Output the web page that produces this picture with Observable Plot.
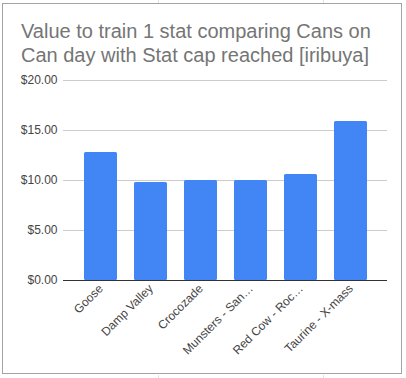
<!DOCTYPE html>
<html>
<head>
<meta charset="utf-8">
<script src="https://cdn.jsdelivr.net/npm/d3@7"></script>
<script src="https://cdn.jsdelivr.net/npm/@observablehq/plot@0.6"></script>
<style>
  html, body { margin: 0; padding: 0; background: #fff; }
  body { width: 406px; height: 378px; position: relative; overflow: hidden; font-family: "Liberation Sans", Arial, sans-serif; }
  #frame { position: absolute; left: 2px; top: 3px; width: 400px; height: 371px; border: 1px solid #a3a3a3; box-sizing: border-box; }
  #title { position: absolute; left: 21px; top: 19px; font-size: 20px; line-height: 24px; color: #757575; white-space: nowrap; }
  #chart { position: absolute; left: 0; top: 70px; }
  .gl { position: absolute; background: #e2e2e2; }
</style>
</head>
<body>
<div class="gl" style="left:158px;top:0;width:1px;height:3px"></div>
<div class="gl" style="left:323px;top:0;width:1px;height:3px"></div>
<div class="gl" style="left:158px;top:375px;width:1px;height:3px"></div>
<div class="gl" style="left:323px;top:375px;width:1px;height:3px"></div>
<div id="frame"></div>
<div id="title">Value to train 1 stat comparing Cans on<br>Can day with Stat cap reached [iribuya]</div>
<div id="chart"></div>
<script>
const categories = ["Goose", "Damp Valley", "Crocozade", "Munsters - San\u2026", "Red Cow - Roc\u2026", "Taurine - X-mass"];
const values = [12.8, 9.8, 10.0, 10.0, 10.6, 15.9];
const yTicks = [0, 5, 10, 15, 20];

const data = categories.map((c, i) => ({category: c, value: values[i]}));

const chart = Plot.plot({
  width: 406,
  height: 300,
  marginTop: 10,
  marginBottom: 90,
  marginLeft: 63,
  marginRight: 19,
  style: {fontFamily: "'Liberation Sans', Arial, sans-serif", fontSize: "12px", color: "#444", background: "transparent"},
  x: {domain: categories, padding: 0.35, insetLeft: 1, label: null},
  y: {domain: [0, 20], label: null},
  marks: [
    Plot.ruleY(yTicks.filter(d => d > 0), {stroke: "#cccccc", strokeWidth: 1}),
    Plot.barY(data, {x: "category", y: "value", fill: "#4285f4", rx: 1.5}),
    Plot.ruleY([0], {stroke: "#333333", strokeWidth: 1.2}),
    Plot.axisY({ticks: yTicks, tickSize: 0, tickPadding: 6, tickFormat: d => "$" + d.toFixed(2), fill: "#444", fontSize: 12}),
    Plot.axisX({tickSize: 0, tickRotate: -45, tickPadding: 6, fill: "#444", fontSize: 12})
  ]
});
document.getElementById("chart").appendChild(chart);
</script>
</body>
</html>
